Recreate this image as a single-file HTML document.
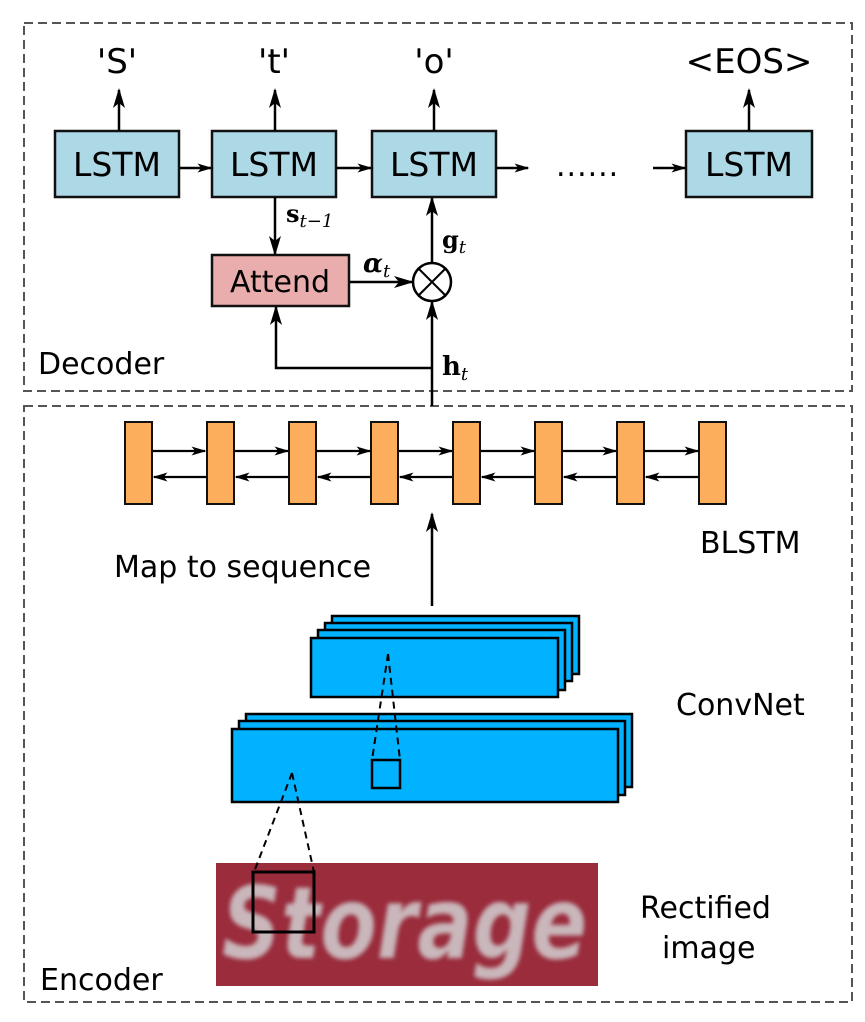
<!DOCTYPE html>
<html><head><meta charset="utf-8"><style>
html,body{margin:0;padding:0;background:#fff;}
svg{display:block;}
text{font-family:"DejaVu Sans","Liberation Sans",sans-serif;fill:#000;}
.m{font-family:"DejaVu Serif","Liberation Serif",serif;font-weight:bold;}
</style></head><body>
<svg width="865" height="1022" viewBox="0 0 865 1022" xmlns="http://www.w3.org/2000/svg">
<defs>
<marker id="b" viewBox="0 0 10 10" refX="9" refY="5" markerWidth="20" markerHeight="20" orient="auto" markerUnits="userSpaceOnUse">
<path d="M0,2 L10,5 L0,8 L2.5,5 z" fill="#000"/></marker>
<marker id="c" viewBox="0 0 10 10" refX="9" refY="5" markerWidth="15" markerHeight="15" orient="auto" markerUnits="userSpaceOnUse">
<path d="M0,2 L10,5 L0,8 L2.5,5 z" fill="#000"/></marker>
</defs>
<g fill="none" stroke="#555" stroke-width="2" stroke-dasharray="9,5">
<rect x="24" y="23" width="828" height="368"/>
<rect x="24" y="406" width="828" height="596"/>
</g>
<g fill="#add8e6" stroke="#111" stroke-width="2.5">
<rect x="55" y="131" width="124" height="66"/>
<rect x="212" y="131" width="124" height="66"/>
<rect x="372" y="131" width="124" height="66"/>
<rect x="686" y="131" width="126" height="66"/>
</g>
<g font-size="33" text-anchor="middle">
<text x="117" y="176">LSTM</text><text x="274" y="176">LSTM</text>
<text x="434" y="176">LSTM</text><text x="749" y="176">LSTM</text>
</g>
<g font-size="34" text-anchor="middle">
<text x="117" y="73">'S'</text><text x="274" y="73">'t'</text>
<text x="434" y="73">'o'</text><text x="749" y="73">&lt;EOS&gt;</text>
</g>
<g stroke="#000" stroke-width="2.5" fill="none">
<line x1="119" y1="131" x2="119" y2="90" marker-end="url(#b)"/>
<line x1="275" y1="131" x2="275" y2="90" marker-end="url(#b)"/>
<line x1="434" y1="131" x2="434" y2="90" marker-end="url(#b)"/>
<line x1="749" y1="131" x2="749" y2="90" marker-end="url(#b)"/>
<line x1="179" y1="168" x2="211" y2="168" marker-end="url(#c)"/>
<line x1="336" y1="168" x2="371" y2="168" marker-end="url(#c)"/>
<line x1="496" y1="168" x2="528" y2="168" marker-end="url(#c)"/>
<line x1="653" y1="168" x2="685" y2="168" marker-end="url(#c)"/>
<line x1="275" y1="197" x2="275" y2="254" marker-end="url(#b)"/>
<line x1="349" y1="282" x2="412" y2="282" marker-end="url(#b)"/>
<line x1="432" y1="263" x2="432" y2="198" marker-end="url(#b)"/>
<line x1="432" y1="406" x2="432" y2="302" marker-end="url(#b)"/>
<polyline points="432,368 276,368 276,307" marker-end="url(#b)"/>
</g>
<text x="556" y="176" font-size="30" letter-spacing="1">......</text>
<rect x="212" y="255" width="137" height="51" fill="#eaadad" stroke="#111" stroke-width="2.5"/>
<text x="280" y="292" font-size="30" text-anchor="middle">Attend</text>
<circle cx="432" cy="282" r="19" fill="#fff" stroke="#000" stroke-width="2.5"/>
<g stroke="#000" stroke-width="2"><line x1="419" y1="269" x2="445" y2="295"/><line x1="445" y1="269" x2="419" y2="295"/></g>
<text class="m" x="286" y="222" font-size="24">s<tspan font-size="18" font-style="italic" font-weight="normal" dy="5">t−1</tspan></text>
<text class="m" x="442" y="248" font-size="24">g<tspan font-size="18" font-style="italic" font-weight="normal" dy="5">t</tspan></text>
<text class="m" x="363" y="272" font-size="26" font-style="italic">α<tspan font-size="18" font-weight="normal" dy="5">t</tspan></text>
<text class="m" x="442" y="375" font-size="26">h<tspan font-size="18" font-style="italic" font-weight="normal" dy="5">t</tspan></text>
<text x="38" y="374" font-size="30">Decoder</text>
<!-- BLSTM -->
<g stroke="#000" stroke-width="2.2">
<line x1="152" y1="451" x2="205" y2="451" marker-end="url(#c)"/>
<line x1="234" y1="451" x2="288" y2="451" marker-end="url(#c)"/>
<line x1="316" y1="451" x2="370" y2="451" marker-end="url(#c)"/>
<line x1="398" y1="451" x2="452" y2="451" marker-end="url(#c)"/>
<line x1="480" y1="451" x2="534" y2="451" marker-end="url(#c)"/>
<line x1="562" y1="451" x2="616" y2="451" marker-end="url(#c)"/>
<line x1="644" y1="451" x2="698" y2="451" marker-end="url(#c)"/>
<line x1="207" y1="477" x2="154" y2="477" marker-end="url(#c)"/>
<line x1="289" y1="477" x2="236" y2="477" marker-end="url(#c)"/>
<line x1="371" y1="477" x2="318" y2="477" marker-end="url(#c)"/>
<line x1="453" y1="477" x2="400" y2="477" marker-end="url(#c)"/>
<line x1="535" y1="477" x2="482" y2="477" marker-end="url(#c)"/>
<line x1="617" y1="477" x2="564" y2="477" marker-end="url(#c)"/>
<line x1="699" y1="477" x2="646" y2="477" marker-end="url(#c)"/>
</g>
<g fill="#fdae5c" stroke="#111" stroke-width="2">
<rect x="125" y="422" width="27" height="82"/><rect x="207" y="422" width="27" height="82"/>
<rect x="289" y="422" width="27" height="82"/><rect x="371" y="422" width="27" height="82"/>
<rect x="453" y="422" width="27" height="82"/><rect x="535" y="422" width="27" height="82"/>
<rect x="617" y="422" width="27" height="82"/><rect x="699" y="422" width="27" height="82"/>
</g>
<line x1="432" y1="606" x2="432" y2="514" stroke="#000" stroke-width="2.5" marker-end="url(#b)"/>
<text x="114" y="577" font-size="30">Map to sequence</text>
<text x="700" y="553" font-size="30">BLSTM</text>
<text x="676" y="715" font-size="30">ConvNet</text>
<text x="640" y="918" font-size="30">Rectified</text>
<text x="662" y="958" font-size="30">image</text>
<text x="40" y="990" font-size="30">Encoder</text>
<g fill="#00b2ff" stroke="#000" stroke-width="2.5">
<rect x="332" y="616" width="247" height="58"/>
<rect x="325" y="623" width="247" height="58"/>
<rect x="318" y="630" width="247" height="60"/>
<rect x="311" y="638" width="247" height="59"/>
<rect x="246" y="714" width="386" height="73"/>
<rect x="239" y="721" width="386" height="74"/>
<rect x="232" y="729" width="386" height="73"/>
</g>
<rect x="372" y="760" width="28" height="28" fill="none" stroke="#000" stroke-width="2.5"/>
<rect x="216" y="863" width="382" height="123" fill="#9a2c3c"/>
<text x="222" y="958" font-size="100" font-weight="bold" font-style="italic" style="fill:#c9b7bb;filter:blur(2px)" textLength="365" lengthAdjust="spacingAndGlyphs">Storage</text>
<rect x="253" y="872" width="61" height="60" fill="none" stroke="#000" stroke-width="3"/>
<g stroke="#000" stroke-width="2" stroke-dasharray="7,5" fill="none">
<line x1="388" y1="654" x2="372" y2="760"/><line x1="388" y1="654" x2="400" y2="760"/>
<line x1="292" y1="773" x2="254" y2="872"/><line x1="292" y1="773" x2="314" y2="872"/>
</g>
</svg>
</body></html>
